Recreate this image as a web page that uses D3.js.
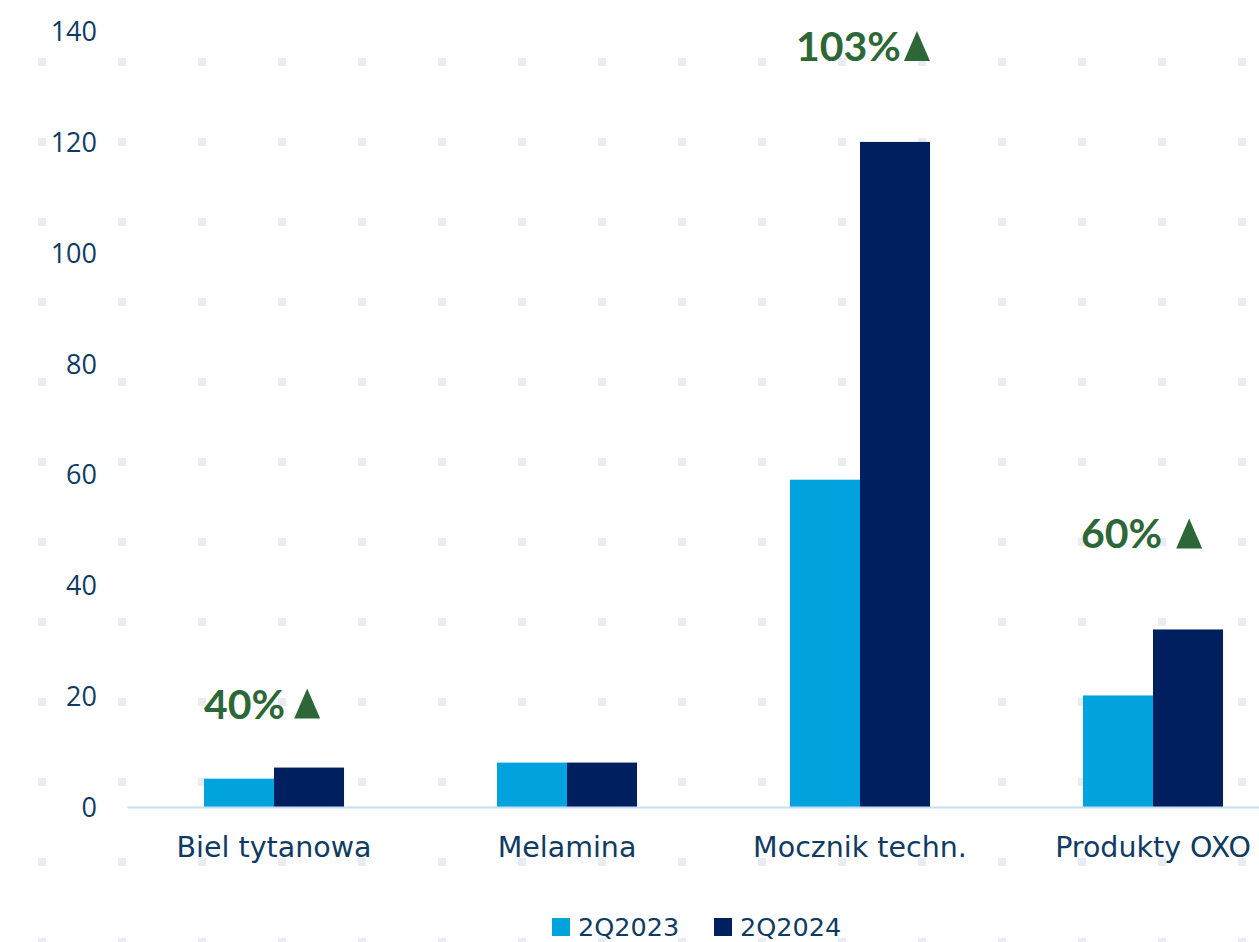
<!DOCTYPE html>
<html>
<head>
<meta charset="utf-8">
<script src="https://cdn.jsdelivr.net/npm/d3@7"></script>
<style>
  html, body { margin: 0; padding: 0; background: #ffffff; overflow: hidden; }
  svg { display: block; }
</style>
</head>
<body>
<svg id="chart" width="1259" height="942"></svg>
<script>
const categories = ["Biel tytanowa", "Melamina", "Mocznik techn.", "Produkty OXO"];
const seriesNames = ["2Q2023", "2Q2024"];
const values2Q2023 = [5.2, 8.1, 59.1, 20.2];
const values2Q2024 = [7.2, 8.1, 120.0, 32.1];
const changeTexts = ["40%", null, "103%", "60%"];
const yTicks = [0, 20, 40, 60, 80, 100, 120, 140];

const W = 1259, H = 942;
const svg = d3.select("#chart");
const colors = ["#00a3de", "#001f5f"];
const textColor = "#0f3b63";
const green = "#2e6737";
const font = "'DejaVu Sans', Verdana, sans-serif";

// background dot pattern
const dotG = svg.append("g");
for (let y = 62; y < H + 10; y += 80) {
  for (let x = 42; x < W + 10; x += 80) {
    dotG.append("rect").attr("x", x - 4).attr("y", y - 4).attr("width", 8).attr("height", 8)
      .attr("fill", "#e9ecf2");
  }
}

const x0 = d3.scaleBand().domain(categories).range([127.5, 1299.5])
  .paddingInner(0.522).paddingOuter(0.261);
const x1 = d3.scaleBand().domain(seriesNames).range([0, x0.bandwidth()]);
const y = d3.scaleLinear().domain([0, 140]).range([807.5, 31]);

// y tick labels
svg.append("g").selectAll("text").data(yTicks).join("text")
  .attr("x", 97).attr("y", d => y(d)).attr("dy", "0.36em")
  .attr("text-anchor", "end").attr("fill", textColor)
  .style("font-family", "'Open Sans', sans-serif").style("font-size", "27px")
  .text(d => d);

// bars
const data = categories.map((c, i) => ({cat: c, vals: [values2Q2023[i], values2Q2024[i]]}));
const groups = svg.append("g").selectAll("g").data(data).join("g")
  .attr("transform", d => `translate(${x0(d.cat)},0)`);
groups.selectAll("rect").data(d => d.vals.map((v, j) => ({s: seriesNames[j], v, j}))).join("rect")
  .attr("x", d => x1(d.s)).attr("width", x1.bandwidth())
  .attr("y", d => y(d.v)).attr("height", d => y(0) - y(d.v))
  .attr("fill", d => colors[d.j]);

// baseline
svg.append("line").attr("x1", 127.5).attr("x2", W).attr("y1", y(0)).attr("y2", y(0))
  .attr("stroke", "#c6def5").attr("stroke-width", 2);

// category labels
svg.append("g").selectAll("text").data(categories).join("text")
  .attr("x", d => x0(d) + x0.bandwidth() / 2).attr("y", 857)
  .attr("text-anchor", "middle").attr("fill", textColor)
  .style("font-family", font).style("font-size", "28.5px")
  .text(d => d);

// change labels
const labelOffsets = [49, 0, 81, 81];
const labelStart = [-70, 0, -64, -72];
const triGap = [9, 0, 3, 14];
const lblG = svg.append("g");
categories.forEach((c, i) => {
  if (!changeTexts[i]) return;
  const cx = x0(c) + x0.bandwidth() / 2;
  const by = y(values2Q2024[i]) - labelOffsets[i];
  const t = lblG.append("text")
    .attr("x", cx + labelStart[i]).attr("y", by)
    .attr("fill", green)
    .style("font-family", "Lato, sans-serif").style("font-size", "41px").style("font-weight", "bold")
    .text(changeTexts[i]);
  const tw = t.node().getComputedTextLength();
  const tx = cx + labelStart[i] + tw + triGap[i];
  lblG.append("path")
    .attr("d", `M${tx},${by} L${tx + 26},${by} L${tx + 13},${by - 30} Z`)
    .attr("fill", green);
});

// legend
const legend = svg.append("g");
const legX = [552, 714];
seriesNames.forEach((s, i) => {
  legend.append("rect").attr("x", legX[i]).attr("y", 918).attr("width", 18).attr("height", 18).attr("fill", colors[i]);
  legend.append("text").attr("x", legX[i] + 26).attr("y", 936).attr("fill", textColor)
    .style("font-family", font).style("font-size", "25.5px").text(s);
});
</script>
</body>
</html>
